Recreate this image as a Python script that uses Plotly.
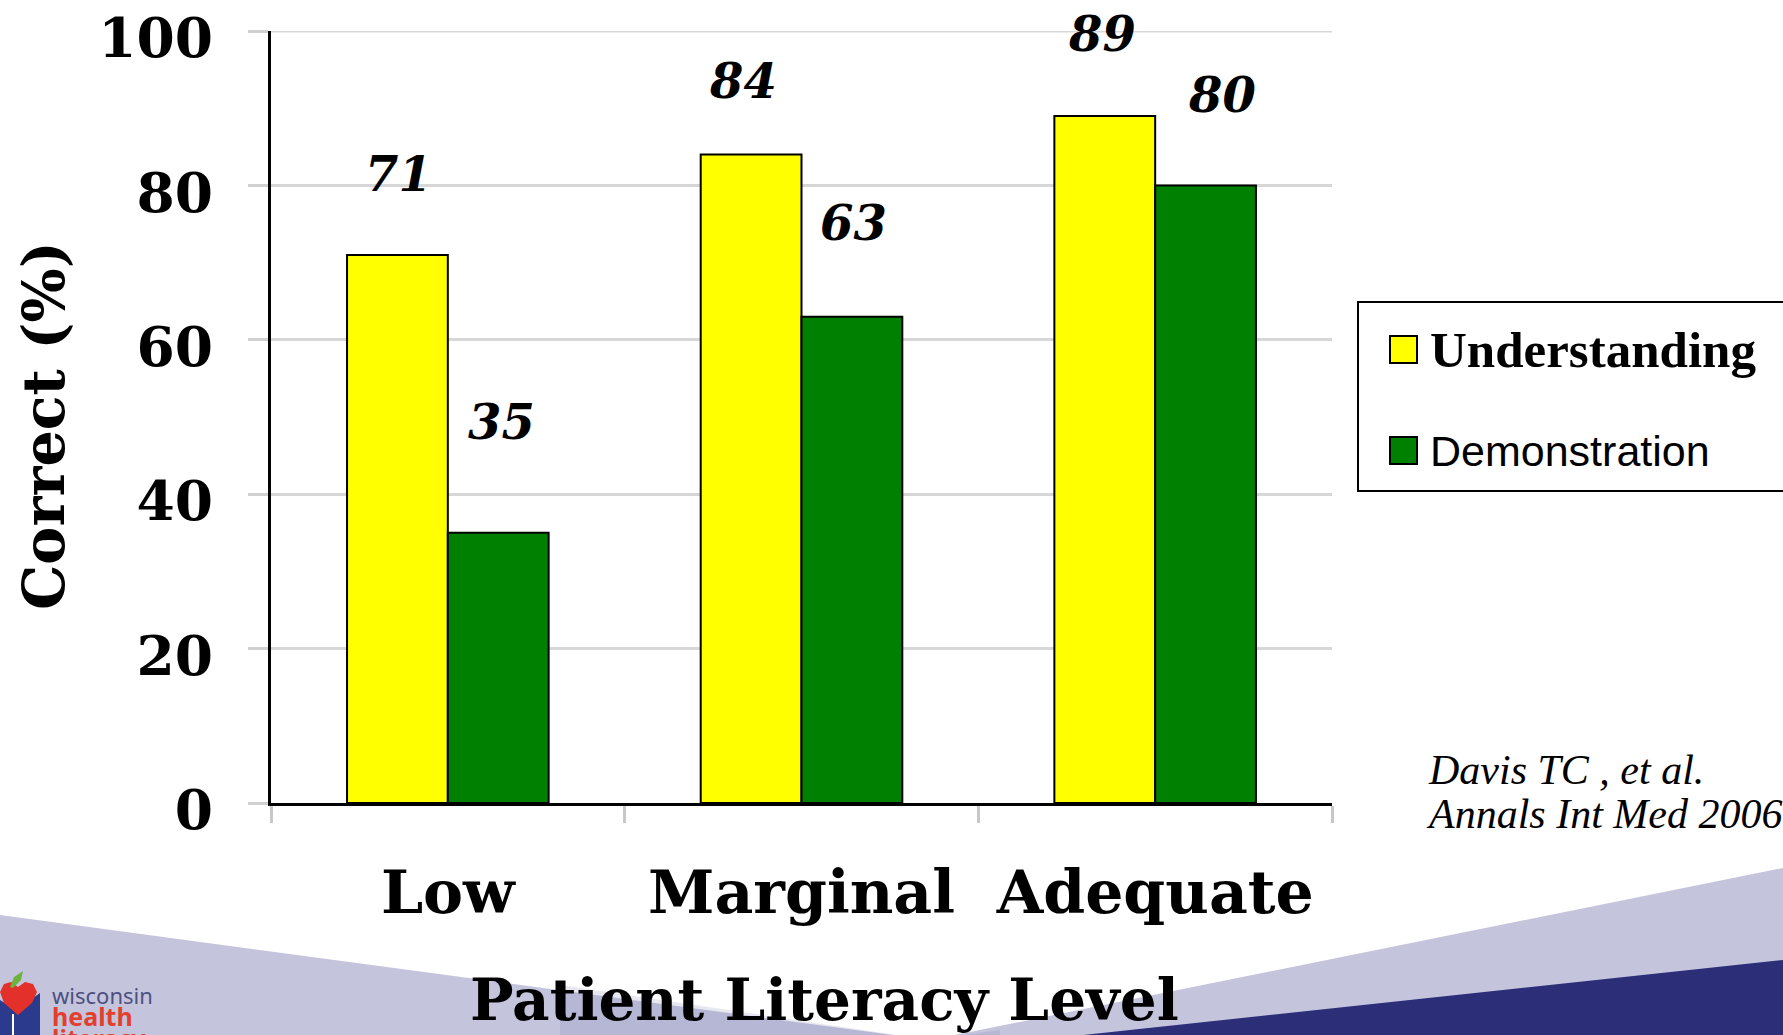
import plotly.graph_objects as go

# ---- data -------------------------------------------------------------
categories = ["Low", "Marginal", "Adequate"]
understanding = [71, 84, 89]
demonstration = [35, 63, 80]
series_names = ["Understanding", "Demonstration"]
y_ticks = [0, 20, 40, 60, 80, 100]
y_title = "Correct (%)"
x_title = "Patient Literacy Level"
citation = ["Davis TC , et al.", "Annals Int Med 2006"]

# ---- geometry (pixels) ------------------------------------------------
W, H = 1783, 1035
L, R, T, B = 271, 1332, 31, 803          # plot area edges


def pxx(x):
    return (x - L) / (R - L)


def pxy(y):
    return (B - y) / (B - T)


def poly(points):
    return "M " + " L ".join(f"{pxx(x):.5f},{pxy(y):.5f}" for x, y in points) + " Z"


SERIF = "DejaVu Serif"
colors = ["#FFFF00", "#008000"]
# pixel offsets of each value label from the top-centre of its category
label_offsets = {
    "Understanding": [(-49, 81), (-59, 74), (-53, 82)],
    "Demonstration": [(54, 111), (52, 94), (67, 90)],
}

fig = go.Figure()
for name, vals, col in zip(series_names, [understanding, demonstration], colors):
    fig.add_trace(go.Bar(
        x=categories, y=vals, name=name, showlegend=False,
        marker=dict(color=col, line=dict(color="black", width=2)),
    ))

annotations = []
# value labels above the bars
for name, vals in zip(series_names, [understanding, demonstration]):
    for c, v, (dx, dy) in zip(categories, vals, label_offsets[name]):
        annotations.append(dict(
            x=c, y=v, xref="x", yref="y", text=str(v), showarrow=False,
            xshift=dx, yshift=dy, xanchor="center", yanchor="middle",
            font=dict(family=SERIF, size=48, color="black", weight="bold", style="italic"),
        ))

# axis titles
annotations.append(dict(
    x=pxx(43), y=pxy(426), xref="paper", yref="paper", text=y_title, textangle=-90,
    showarrow=False, xanchor="center", yanchor="middle",
    font=dict(family=SERIF, size=57, color="black", weight="bold"),
))
annotations.append(dict(
    x=pxx(824), y=pxy(1000), xref="paper", yref="paper", text=x_title,
    showarrow=False, xanchor="center", yanchor="middle",
    font=dict(family=SERIF, size=58, color="black", weight="bold"),
))

# legend entries
legend_fonts = [
    dict(family="Liberation Serif", size=51, color="black", weight="bold"),
    dict(family="Liberation Sans", size=43, color="black"),
]
legend_rows = [350, 451]
shapes = []
for name, col, yc, fnt in zip(series_names, colors, legend_rows, legend_fonts):
    shapes.append(dict(
        type="rect", xref="paper", yref="paper",
        x0=pxx(1390), x1=pxx(1417), y0=pxy(yc + 13), y1=pxy(yc - 14),
        fillcolor=col, line=dict(color="black", width=2),
    ))
    annotations.append(dict(
        x=pxx(1428), y=pxy(yc), xref="paper", yref="paper", text=name,
        showarrow=False, xanchor="left", yanchor="middle", font=fnt,
    ))

# citation: small base size sets the line pitch, spans set the glyph size
annotations.append(dict(
    x=pxx(1424), y=pxy(792), xref="paper", yref="paper",
    text="<br>".join(f"<span style='font-size:42px'>{t}</span>" for t in citation),
    showarrow=False, xanchor="left", yanchor="middle", align="left",
    font=dict(family="Liberation Serif", size=34, color="black", style="italic"),
))

# logo text (one block, three lines)
annotations.append(dict(
    x=pxx(50), y=pxy(978), xref="paper", yref="paper",
    text=("<span style='color:#4d5080;font-size:22px'>wisconsin</span><br>"
          "<span style='color:#e2402e;font-size:25px;font-weight:bold'>health</span><br>"
          "<span style='color:#e2402e;font-size:25px;font-weight:bold'>literacy</span>"),
    showarrow=False, xanchor="left", yanchor="top", align="left",
    font=dict(family="Noto Sans", size=17, color="#4d5080"),
))

# background swoosh
bg = [
    (poly([(0, 915), (930, 1040), (1783, 868), (1783, 1045), (0, 1045)]), "#c4c5dd"),
    (poly([(560, 985), (930, 1040), (1000, 1030), (1000, 1045), (560, 1045)]), "rgba(120,120,170,0.18)"),
    (poly([(990, 1045), (1783, 960), (1783, 1045)]), "#2c2e78"),
]
for path, col in bg:
    shapes.append(dict(type="path", path=path, xref="paper", yref="paper",
                       fillcolor=col, line=dict(width=0), layer="below"))

# top gridline at 100, drawn explicitly so it is never dropped at the range edge
shapes.append(dict(type="line", xref="paper", yref="y", x0=0, x1=1, y0=100, y1=100,
                   line=dict(color="#d7d7d7", width=3), layer="below"))

# legend frame
shapes.append(dict(
    type="rect", xref="paper", yref="paper",
    x0=pxx(1358), x1=pxx(1800), y0=pxy(491), y1=pxy(302),
    fillcolor="rgba(255,255,255,0)", line=dict(color="black", width=2),
))

# logo marks
logo = [
    (poly([(0, 1000), (16, 1010), (40, 993), (40, 1045), (0, 1045)]), "#2b3a8c"),
    (poly([(0, 992), (4, 984), (11, 982), (18, 987), (25, 982), (33, 984), (37, 992),
           (32, 1003), (18, 1015), (4, 1003)]), "#e3302a"),
    (poly([(10, 987), (14, 977), (23, 971), (21, 980), (13, 988)]), "#6fb23e"),
]
for path, col in logo:
    shapes.append(dict(type="path", path=path, xref="paper", yref="paper",
                       fillcolor=col, line=dict(width=0)))
shapes.append(dict(type="line", xref="paper", yref="paper",
                   x0=pxx(13), x1=pxx(13), y0=pxy(1014), y1=pxy(1040),
                   line=dict(color="white", width=2)))

fig.update_layout(
    width=W, height=H,
    margin=dict(l=L, r=W - R, t=T, b=H - B, autoexpand=False),
    paper_bgcolor="white", plot_bgcolor="rgba(0,0,0,0)",
    barmode="group", bargap=0.43, bargroupgap=0,
    showlegend=False,
    annotations=annotations, shapes=shapes,
)
fig.update_yaxes(
    range=[0, 100], tickvals=y_ticks, showgrid=True, gridcolor="#d7d7d7", gridwidth=3,
    ticks="outside", ticklen=20, tickcolor="#d0d0d0", tickwidth=3,
    showline=True, linecolor="black", linewidth=3, zeroline=False,
    tickfont=dict(family=SERIF, size=55, color="black", weight="bold"),
    ticklabelstandoff=24, ticklabelshift=7, ticklabeloverflow="allow",
)
fig.update_xaxes(
    showline=True, linecolor="black", linewidth=3,
    ticks="outside", tickson="boundaries", ticklen=17, tickcolor="#c8c8c8", tickwidth=3,
    tickfont=dict(family=SERIF, size=60, color="black", weight="bold"),
    ticklabelstandoff=35,
)

fig.write_html("out.html")
